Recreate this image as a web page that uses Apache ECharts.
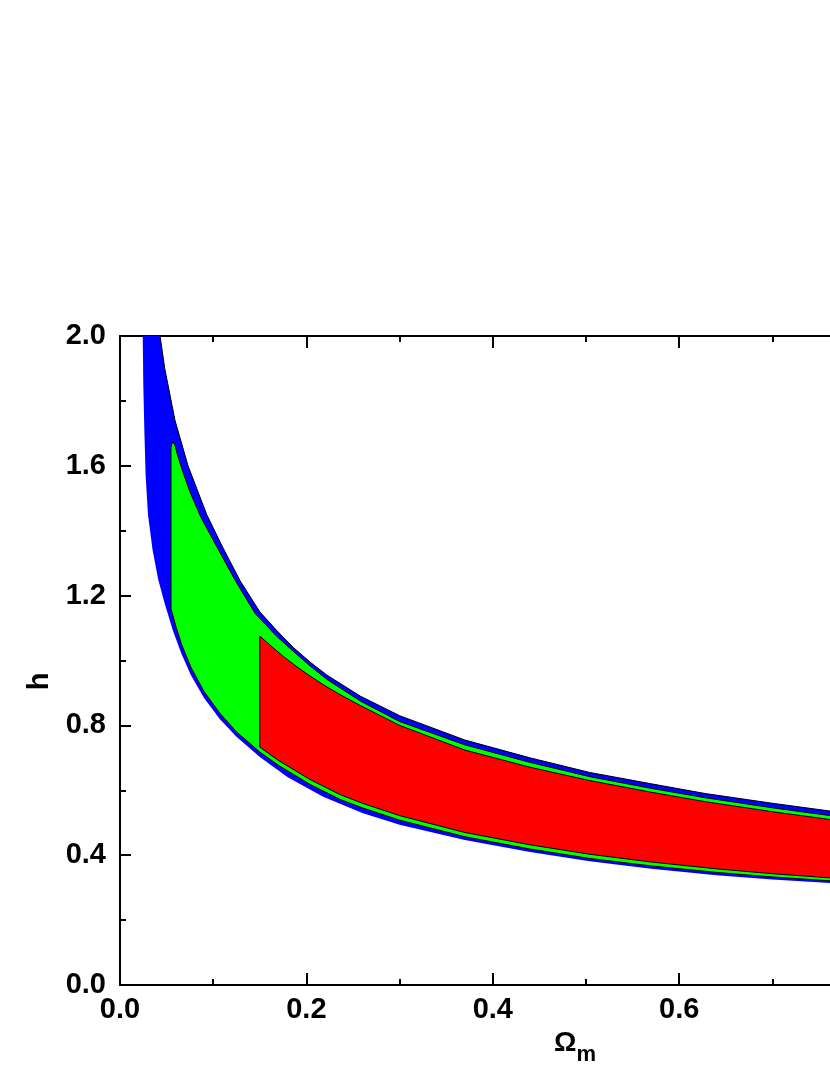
<!DOCTYPE html>
<html><head><meta charset="utf-8">
<script src="https://cdn.jsdelivr.net/npm/echarts@6/dist/echarts.min.js"></script>
<style>html,body{margin:0;padding:0;background:#fff;overflow:hidden}#c{width:830px;height:1075px}</style>
</head><body><div id="c"></div><script>
// [Omega_m, h] boundary points
const blueUpper = [[0.043,2.00],[0.048,1.90],[0.059,1.74],[0.073,1.60],[0.093,1.45],[0.110,1.35],[0.129,1.245],[0.150,1.15],[0.168,1.093],[0.186,1.04],[0.204,0.995],[0.222,0.955],[0.258,0.89],[0.300,0.83],[0.370,0.755],[0.440,0.70],[0.504,0.655],[0.570,0.62],[0.628,0.59],[0.700,0.56],[0.762,0.536],[0.800,0.524]];
const blueLower = [[0.0244,2.00],[0.0250,1.85],[0.0262,1.70],[0.0275,1.57],[0.030,1.45],[0.035,1.34],[0.041,1.25],[0.048,1.175],[0.057,1.09],[0.066,1.02],[0.076,0.955],[0.090,0.885],[0.107,0.82],[0.125,0.765],[0.150,0.703],[0.180,0.640],[0.218,0.580],[0.260,0.530],[0.300,0.494],[0.370,0.447],[0.440,0.410],[0.504,0.381],[0.570,0.358],[0.640,0.338],[0.700,0.325],[0.762,0.314],[0.800,0.307]];
const greenUpper = [[0.0547,1.655],[0.0560,1.672],[0.0585,1.668],[0.062,1.63],[0.067,1.585],[0.075,1.52],[0.087,1.44],[0.104,1.35],[0.123,1.25],[0.145,1.145],[0.168,1.075],[0.186,1.028],[0.204,0.983],[0.222,0.942],[0.258,0.875],[0.300,0.812],[0.370,0.740],[0.440,0.686],[0.504,0.642],[0.570,0.606],[0.628,0.577],[0.700,0.546],[0.762,0.522],[0.800,0.510]];
const greenLower = [[0.0547,1.16],[0.060,1.105],[0.066,1.05],[0.076,0.98],[0.090,0.905],[0.107,0.838],[0.125,0.78],[0.150,0.718],[0.170,0.677],[0.204,0.618],[0.236,0.572],[0.260,0.546],[0.300,0.508],[0.370,0.457],[0.440,0.419],[0.504,0.390],[0.570,0.367],[0.640,0.347],[0.700,0.333],[0.762,0.321],[0.800,0.314]];
const redUpper = [[0.150,1.075],[0.160,1.050],[0.175,1.013],[0.190,0.980],[0.204,0.952],[0.220,0.922],[0.236,0.895],[0.258,0.861],[0.300,0.800],[0.370,0.724],[0.440,0.671],[0.504,0.630],[0.570,0.594],[0.628,0.565],[0.700,0.534],[0.762,0.510],[0.800,0.498]];
const redLower = [[0.150,0.733],[0.170,0.692],[0.204,0.633],[0.236,0.587],[0.260,0.560],[0.300,0.522],[0.370,0.470],[0.440,0.432],[0.504,0.403],[0.570,0.379],[0.640,0.358],[0.700,0.343],[0.762,0.330],[0.800,0.322]];

const FONT = '"Liberation Sans", Arial, Helvetica, sans-serif';

function band(name, upper, lower, fill, outlineAll) {
  return {
    type: 'custom', name: name, coordinateSystem: 'cartesian2d',
    xAxisIndex: 0, yAxisIndex: 0, clip: true, silent: true,
    data: [[upper[0][0], upper[0][1]]],
    renderItem: function (params, api) {
      const up = upper.map(p => api.coord(p));
      const lo = lower.map(p => api.coord(p)).reverse();
      const children = [{
        type: 'polygon', shape: { points: up.concat(lo) },
        style: { fill: fill, stroke: outlineAll ? '#000' : null, lineWidth: outlineAll ? 1 : 0 }
      }];
      if (!outlineAll) {
        children.push({ type: 'polyline', shape: { points: up }, style: { stroke: '#000', lineWidth: 1, fill: null } });
      }
      return { type: 'group', children: children };
    }
  };
}

const axisLine = { show: true, onZero: false, lineStyle: { color: '#000', width: 2 } };
const tick = (len) => ({ show: true, inside: true, length: len, lineStyle: { color: '#000', width: 2 } });
const minor = { show: true, splitNumber: 2, length: 6, lineStyle: { color: '#000', width: 2 } };
const lbl = { fontFamily: FONT, fontWeight: 'bold', fontSize: 29, color: '#000', lineHeight: 29 };

const chart = echarts.init(document.getElementById('c'), null, { renderer: 'canvas' });
chart.setOption({
  animation: false,
  backgroundColor: '#fff',
  grid: { left: 120, top: 336, width: 932, height: 649, containLabel: false, outerBoundsMode: 'none' },
  xAxis: [{
    type: 'value', position: 'bottom', min: 0, max: 1, interval: 0.2,
    axisLine: axisLine, axisTick: tick(12), minorTick: minor,
    splitLine: { show: false }, minorSplitLine: { show: false },
    axisLabel: Object.assign({ margin: 10, formatter: v => v.toFixed(1) }, lbl),
    name: '{a|Ω}{b|m}', nameLocation: 'middle', nameGap: 44,
    nameTextStyle: {
      padding: [0, 22, 0, 0],
      rich: {
        a: { fontFamily: FONT, fontWeight: 'bold', fontSize: 28, lineHeight: 28, color: '#000', verticalAlign: 'top' },
        b: { fontFamily: FONT, fontWeight: 'bold', fontSize: 22, lineHeight: 22, color: '#000', verticalAlign: 'top', padding: [15, 0, 0, 0] }
      }
    }
  }, {
    type: 'value', position: 'top', min: 0, max: 1, interval: 0.2,
    axisLine: axisLine, axisTick: tick(12), minorTick: minor,
    splitLine: { show: false }, minorSplitLine: { show: false }, axisLabel: { show: false }
  }],
  yAxis: [{
    type: 'value', position: 'left', min: 0, max: 2, interval: 0.4,
    axisLine: axisLine, axisTick: tick(11), minorTick: minor,
    splitLine: { show: false }, minorSplitLine: { show: false },
    axisLabel: Object.assign({ margin: 14, formatter: v => v.toFixed(1) }, lbl),
    name: 'h', nameLocation: 'middle', nameGap: 53,
    nameTextStyle: { fontFamily: FONT, fontWeight: 'bold', fontSize: 29, lineHeight: 29, color: '#000', padding: [0, 42, 0, 0] }
  }, {
    type: 'value', position: 'right', min: 0, max: 2, interval: 0.4,
    axisLine: axisLine, axisTick: tick(11), minorTick: minor,
    splitLine: { show: false }, minorSplitLine: { show: false }, axisLabel: { show: false }
  }],
  series: [
    band('blue', blueUpper, blueLower, '#0000ff', false),
    band('green', greenUpper, greenLower, '#00ff00', true),
    band('red', redUpper, redLower, '#ff0000', true)
  ]
});
</script></body></html>
